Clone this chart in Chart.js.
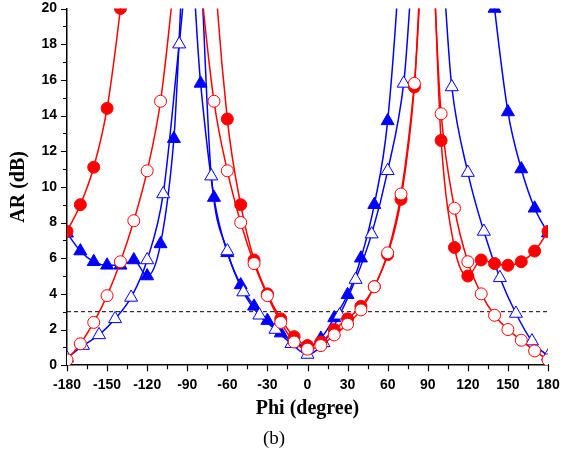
<!DOCTYPE html>
<html>
<head>
<meta charset="utf-8">
<script src="https://cdn.jsdelivr.net/npm/chart.js@4.4.0/dist/chart.umd.min.js"></script>
<style>
  body { margin: 0; background: #fff; }
  #wrap { width: 579px; height: 450px; }
</style>
</head>
<body>
<div id="wrap"><canvas id="arChart" width="579" height="450"></canvas></div>
<script>
// phi angles (degree)
const phi10 = [-180, -170, -160, -150, -140, -130, -120, -110, -100, -90, -80, -70, -60, -50, -40, -30, -20, -10, 0,
  10, 20, 30, 40, 50, 60, 70, 80, 90, 100, 110, 120, 130, 140, 150, 160, 170, 180];
const phi12 = [-180, -168, -156, -144, -132, -120, -108, -96, -84, -72, -60, -48, -36, -24, -12, 0,
  12, 24, 36, 48, 60, 72, 84, 96, 108, 120, 132, 144, 156, 168, 180];

// AR (dB), values above 20 run off the top of the plot
const redFilled = [7.5, 9.0, 11.1, 14.4, 20.0, 27, 40, 45, 45, 45, 40, 23, 13.8, 9.0, 5.9, 4.0, 2.6, 1.6, 1.1,
  1.3, 2.0, 2.6, 3.3, 4.4, 6.2, 9.3, 15.6, 28, 12.6, 6.6, 5.0, 5.9, 5.7, 5.6, 5.8, 6.4, 7.5];
const redOpen = [0.3, 1.2, 2.4, 3.9, 5.8, 8.1, 10.9, 14.8, 21.5, 30, 21.5, 14.8, 10.9, 8.0, 5.7, 3.9, 2.4, 1.3, 0.9,
  1.1, 1.7, 2.3, 3.1, 4.4, 6.3, 9.6, 15.8, 26, 14.1, 8.8, 5.8, 4.0, 2.8, 2.0, 1.4, 0.8, 0.3];
const blueFilled = [7.4, 6.4, 5.8, 5.6, 5.6, 5.9, 5.0, 6.8, 12.7, 25, 15.8, 9.4, 6.3, 4.5, 3.3, 2.5, 1.8, 1.3, 1.05,
  1.5, 2.65, 3.95, 6.0, 9.0, 13.7, 24, 40, 45, 45, 40, 35, 27, 20.0, 14.2, 11.0, 8.8, 7.4];
const blueOpen = [0.4, 1.1, 1.7, 2.6, 3.8, 5.9, 9.6, 18.0, 26, 10.6, 6.4, 4.1, 2.8, 2.0, 1.2, 0.6,
  1.25, 2.8, 4.8, 7.35, 10.9, 15.8, 26, 26, 15.6, 10.8, 7.5, 4.9, 2.9, 1.35, 0.5];

// 3 dB reference line
const refPhi = [-180, 180];
const refAR = [3, 3];

function pts(xs, ys) {
  return xs.map((x, i) => ({ x: x, y: ys[i] }));
}

const tickMarks = {
  id: 'tickMarks',
  afterDraw(chart) {
    const { ctx, chartArea: a, scales: { x, y } } = chart;
    ctx.save();
    ctx.strokeStyle = '#000';
    ctx.lineWidth = 1.2;
    ctx.beginPath();
    x.ticks.forEach(t => {
      const px = Math.round(x.getPixelForValue(t.value)) + 0.5;
      const len = t.value % 30 === 0 ? 6 : 4;
      ctx.moveTo(px, a.bottom);
      ctx.lineTo(px, a.bottom + len);
    });
    y.ticks.forEach(t => {
      const py = Math.round(y.getPixelForValue(t.value)) + 0.5;
      const len = t.value % 2 === 0 ? 6 : 4;
      ctx.moveTo(a.left, py);
      ctx.lineTo(a.left - len, py);
    });
    ctx.stroke();
    ctx.restore();
  }
};

const RED = '#ff0000';
const BLUE = '#0000ff';

function series(data, color, fill, style, radius) {
  return {
    data: data,
    borderColor: color,
    borderWidth: 1.5,
    pointStyle: style,
    pointRadius: radius,
    pointBackgroundColor: fill,
    pointBorderColor: color,
    pointBorderWidth: 1,
    cubicInterpolationMode: 'monotone',
    fill: false
  };
}

new Chart(document.getElementById('arChart').getContext('2d'), {
  type: 'line',
  data: {
    datasets: [
      series(pts(phi10, redOpen), RED, '#ffffff', 'circle', 6),
      series(pts(phi10, redFilled), RED, RED, 'circle', 6),
      series(pts(phi12, blueOpen), BLUE, '#ffffff', 'triangle', 7.5),
      series(pts(phi10, blueFilled), BLUE, BLUE, 'triangle', 7.5),
      {
        data: pts(refPhi, refAR),
        borderColor: '#000',
        borderWidth: 1,
        borderDash: [4, 3],
        pointRadius: 0
      }
    ]
  },
  options: {
    responsive: false,
    animation: false,
    layout: { padding: { left: 0, right: 31, top: 0, bottom: 0 } },
    plugins: {
      legend: { display: false },
      tooltip: { enabled: false },
      title: {
        display: true,
        text: '(b)',
        position: 'bottom',
        color: '#000',
        font: { family: 'Liberation Serif', size: 19, weight: 'normal' },
        padding: { top: 0, bottom: 0 }
      }
    },
    scales: {
      x: {
        type: 'linear',
        min: -180,
        max: 180,
        afterFit: s => { s.height = 62; },
        grid: { display: false, drawTicks: false },
        border: { display: true, color: '#000', width: 1.5 },
        ticks: {
          stepSize: 15,
          autoSkip: false,
          maxRotation: 0,
          padding: 12,
          color: '#000',
          font: { family: 'Liberation Sans', size: 14, weight: 'bold' },
          callback: v => (v % 30 === 0 ? v : '')
        },
        title: {
          display: true,
          text: 'Phi (degree)',
          color: '#000',
          font: { family: 'Liberation Serif', size: 20, weight: 'bold' },
          padding: { top: 0, bottom: 6 }
        }
      },
      y: {
        min: 0,
        max: 20,
        afterFit: s => { s.width = 67; s.paddingTop = 8; s.paddingBottom = 0; },
        grid: { display: false, drawTicks: false },
        border: { display: true, color: '#000', width: 1.5 },
        ticks: {
          stepSize: 1,
          autoSkip: false,
          padding: 10,
          color: '#000',
          font: { family: 'Liberation Sans', size: 14, weight: 'bold' },
          callback: v => (v % 2 === 0 ? v : '')
        },
        title: {
          display: true,
          text: 'AR (dB)',
          color: '#000',
          font: { family: 'Liberation Serif', size: 20, weight: 'bold' },
          padding: { top: 7, bottom: 0 }
        }
      }
    }
  },
  plugins: [tickMarks]
});
</script>
</body>
</html>
